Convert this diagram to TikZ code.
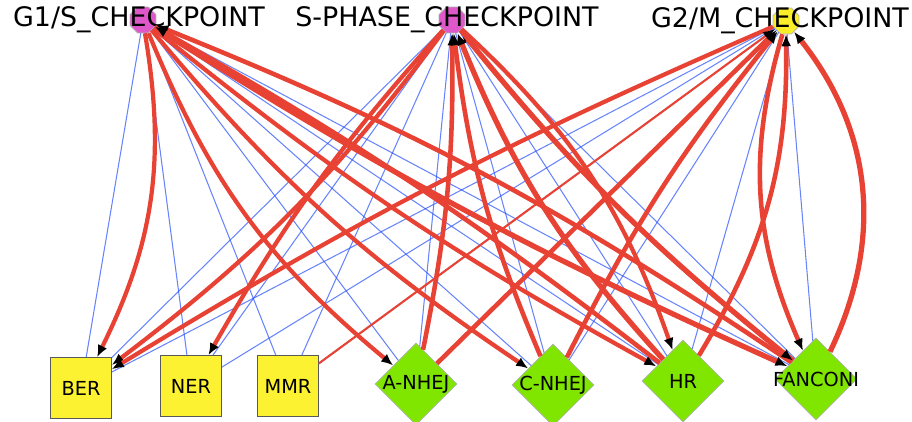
\documentclass[tikz,border=0pt]{standalone}
\usepackage{fontspec}
\setmainfont{DejaVu Sans}
\usetikzlibrary{arrows.meta, shapes.geometric}
\definecolor{EdgeRed}{RGB}{232,66,52}
\definecolor{EdgeBlue}{RGB}{40,80,250}
\definecolor{CheckPink}{RGB}{222,88,202}
\definecolor{CheckYellow}{RGB}{250,238,40}
\definecolor{PathYellow}{RGB}{252,242,50}
\definecolor{PathGreen}{RGB}{128,230,0}

\begin{document}
\begin{tikzpicture}[
    x=0.02cm, y=-0.02cm,
    checkpoint/.style={regular polygon, regular polygon sides=8, draw=gray!60,
        minimum size=0.56cm, inner sep=0pt},
    cplabel/.style={font=\fontsize{15.3}{18}\selectfont, inner sep=0pt},
    pathsquare/.style={rectangle, draw=gray!70!black, fill=PathYellow,
        minimum size=1.22cm, inner sep=0pt},
    pathdiamond/.style={diamond, draw=gray!60, fill=PathGreen,
        minimum size=1.64cm, inner sep=0pt},
    pwlabel/.style={font=\fontsize{11}{13}\selectfont, inner sep=0pt},
    redge/.style={EdgeRed, line width=2.4pt,
        -{Latex[length=2.4mm, width=2mm, color=black]}},
    bedge/.style={EdgeBlue, opacity=0.7, line width=0.6pt},
]
\useasboundingbox (0,0) rectangle (912,422);

% checkpoints
\node[checkpoint, fill=CheckPink,
    label={[cplabel, xshift=-0.08cm]center:G1/S\_CHECKPOINT}] (g1s) at (143,20) {};
\node[checkpoint, fill=CheckPink,
    label={[cplabel, xshift=-0.1cm]center:S-PHASE\_CHECKPOINT}] (sph) at (452,20) {};
\node[checkpoint, fill=CheckYellow,
    label={[cplabel, xshift=-0.12cm]center:G2/M\_CHECKPOINT}] (g2m) at (786,21) {};

% repair pathways
\node[pathsquare, label={[pwlabel]center:BER}] (ber) at (81,388) {};
\node[pathsquare, label={[pwlabel]center:NER}] (ner) at (191,386) {};
\node[pathsquare, label={[pwlabel]center:MMR}] (mmr) at (288,386) {};
\node[pathdiamond, label={[pwlabel]center:A-NHEJ}] (anhej) at (416,384) {};
\node[pathdiamond, label={[pwlabel]center:C-NHEJ}] (cnhej) at (553,385) {};
\node[pathdiamond, label={[pwlabel]center:HR}] (hr) at (683,381) {};
\node[pathdiamond, label={[pwlabel]center:FANCONI}] (fanc) at (816,379) {};

% weak links
\foreach \s in {g1s, sph, g2m}
    \foreach \t in {ber, ner, mmr, anhej, cnhej, hr, fanc}
        \draw[bedge] (\s) -- (\t);

% strong links
\foreach \s/\t/\b/\w in {%
    g1s/ber/18/2.4, g1s/anhej/-14/2.4, g1s/cnhej/-8/2.4, g1s/hr/-5/2.4,
    g1s/fanc/-4/3, fanc/g1s/-6/2.6, hr/g1s/-4/2.6,
    sph/ber/8/2.4, sph/ner/-6/2.4, anhej/sph/-6/2.6, cnhej/sph/8/2.6,
    hr/sph/10/3, fanc/sph/6/3, sph/hr/14/2.4, sph/fanc/-6/2.4,
    g2m/ber/-4/2.4, mmr/g2m/0/1.2, anhej/g2m/0/2.6, cnhej/g2m/6/2.6,
    hr/g2m/-16/2.6, g2m/fanc/-20/2.6, fanc/g2m/-32/3%
}{
    \draw[redge, line width=\w pt] (\s) to[bend left=\b] (\t);
}

\end{tikzpicture}
\end{document}
